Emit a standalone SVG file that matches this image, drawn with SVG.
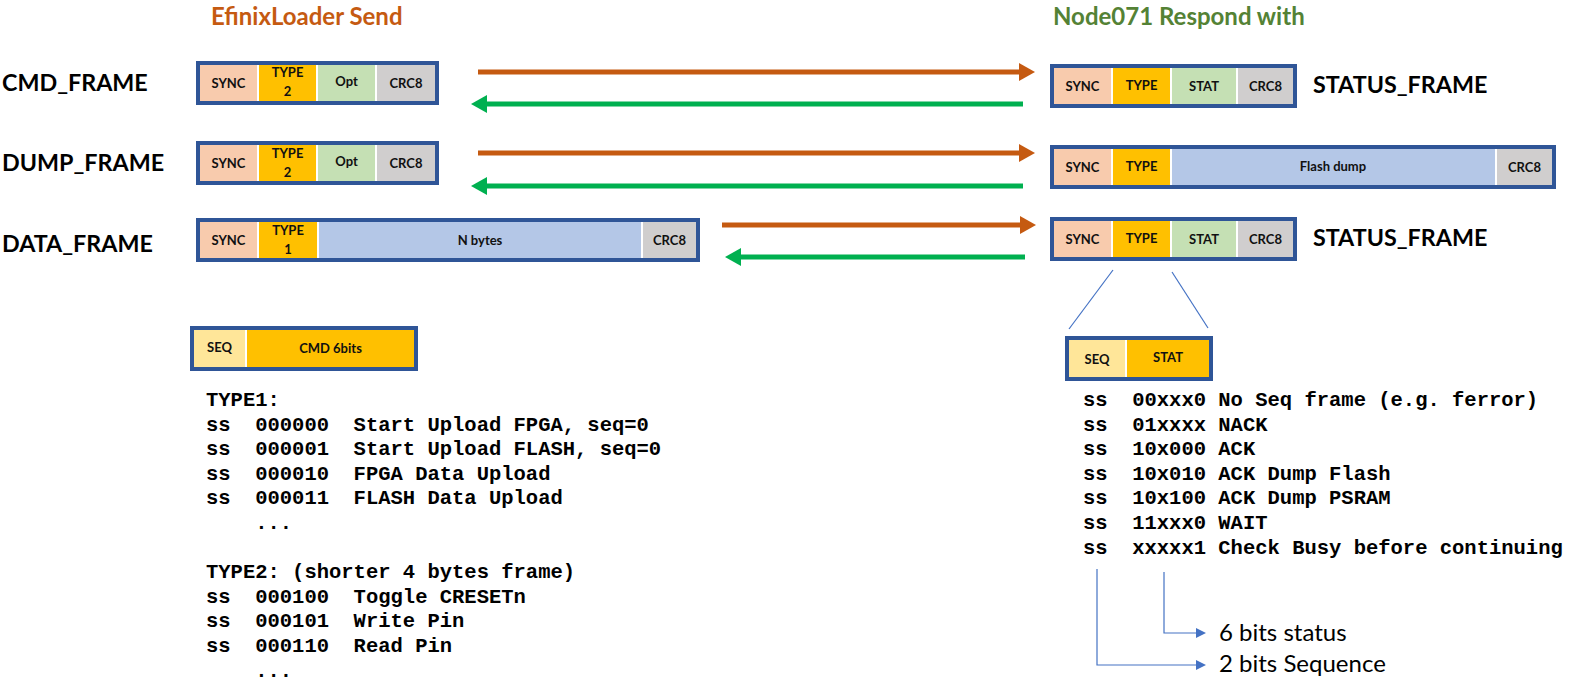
<svg xmlns="http://www.w3.org/2000/svg" width="1573" height="685" viewBox="0 0 1573 685">
<style>
.frame{fill:#fff;stroke:#2F5597;stroke-width:4}
.sync{fill:#F8CBAD}.type{fill:#FFC000}.stat{fill:#C5E0B4}.crc{fill:#D0CECE}.data{fill:#B4C7E7}.seq{fill:#FFE699}
.c{font-family:Lato,"Open Sans","Liberation Sans",sans-serif;font-weight:bold;font-size:13px;fill:#111;text-anchor:middle}
.lbl{font-family:Lato,"Open Sans","Liberation Sans",sans-serif;font-weight:bold;font-size:23.3px;fill:#000}
.hdr{font-family:Lato,"Open Sans","Liberation Sans",sans-serif;font-weight:bold;font-size:24px}
.mono{font-family:"Liberation Mono","Courier New",monospace;font-weight:bold;font-size:20.5px;fill:#000;white-space:pre}
.note{font-family:Lato,"Open Sans","Liberation Sans",sans-serif;font-size:24px;fill:#000}
.or{stroke:#C55A11;stroke-width:5;fill:none}
.gr{stroke:#00B050;stroke-width:5;fill:none}
.bl{stroke:#4472C4;stroke-width:1.2;fill:none}
</style>
<defs>
<marker id="ao" markerUnits="userSpaceOnUse" markerWidth="17" markerHeight="18" viewBox="0 0 17 18" refX="1" refY="9" orient="auto"><path d="M0,0 L16,9 L0,18 z" fill="#C55A11"/></marker>
<marker id="ag" markerUnits="userSpaceOnUse" markerWidth="17" markerHeight="18" viewBox="0 0 17 18" refX="1" refY="9" orient="auto"><path d="M0,0 L16,9 L0,18 z" fill="#00B050"/></marker>
<marker id="ab" markerUnits="userSpaceOnUse" markerWidth="11" markerHeight="10" viewBox="0 0 11 10" refX="1" refY="5" orient="auto"><path d="M0,0 L10,5 L0,10 z" fill="#4472C4"/></marker>
</defs>

<g id="headers">
<text class="hdr" x="211" y="25" fill="#C55A11">EfinixLoader Send</text>
<text class="hdr" x="1053" y="25" fill="#548235">Node071 Respond with</text>
</g>

<g id="labels">
<text class="lbl" x="2" y="91">CMD_FRAME</text>
<text class="lbl" x="2" y="171">DUMP_FRAME</text>
<text class="lbl" x="2" y="252">DATA_FRAME</text>
<text class="lbl" x="1313" y="93">STATUS_FRAME</text>
<text class="lbl" x="1313" y="246">STATUS_FRAME</text>
</g>

<g id="cmd-frame">
<rect class="frame" x="198" y="63" width="239" height="40"/>
<rect class="sync" x="200" y="65" width="57" height="36"/>
<rect class="type" x="259" y="65" width="57" height="36"/>
<rect class="stat" x="318" y="65" width="57" height="36"/>
<rect class="crc" x="377" y="65" width="58" height="36"/>
<text class="c" x="228.5" y="87.5">SYNC</text>
<text class="c" x="287.5" y="77">TYPE</text>
<text class="c" x="287.5" y="96">2</text>
<text class="c" x="346.5" y="86">Opt</text>
<text class="c" x="406" y="87.5">CRC8</text>
</g>

<g id="dump-frame">
<rect class="frame" x="198" y="143" width="239" height="40"/>
<rect class="sync" x="200" y="145" width="57" height="36"/>
<rect class="type" x="259" y="145" width="57" height="36"/>
<rect class="stat" x="318" y="145" width="57" height="36"/>
<rect class="crc" x="377" y="145" width="58" height="36"/>
<text class="c" x="228.5" y="167.5">SYNC</text>
<text class="c" x="287.5" y="158">TYPE</text>
<text class="c" x="287.5" y="177">2</text>
<text class="c" x="346.5" y="166">Opt</text>
<text class="c" x="406" y="167.5">CRC8</text>
</g>

<g id="data-frame">
<rect class="frame" x="198" y="220" width="500" height="40"/>
<rect class="sync" x="200" y="222" width="57" height="36"/>
<rect class="type" x="259" y="222" width="58" height="36"/>
<rect class="data" x="319" y="222" width="322" height="36"/>
<rect class="crc" x="643" y="222" width="53" height="36"/>
<text class="c" x="228.5" y="245">SYNC</text>
<text class="c" x="288" y="235">TYPE</text>
<text class="c" x="288" y="254">1</text>
<text class="c" x="480" y="245">N bytes</text>
<text class="c" x="669.5" y="245">CRC8</text>
</g>

<g id="status-frame-1">
<rect class="frame" x="1052" y="66" width="243" height="40"/>
<rect class="sync" x="1054" y="68" width="57" height="36"/>
<rect class="type" x="1113" y="68" width="57" height="36"/>
<rect class="stat" x="1172" y="68" width="64" height="36"/>
<rect class="crc" x="1238" y="68" width="55" height="36"/>
<text class="c" x="1082.5" y="91">SYNC</text>
<text class="c" x="1141.5" y="90">TYPE</text>
<text class="c" x="1204" y="91">STAT</text>
<text class="c" x="1265.5" y="91">CRC8</text>
</g>

<g id="dump-response">
<rect class="frame" x="1052" y="147" width="502" height="40"/>
<rect class="sync" x="1054" y="149" width="57" height="36"/>
<rect class="type" x="1113" y="149" width="57" height="36"/>
<rect class="data" x="1172" y="149" width="323" height="36"/>
<rect class="crc" x="1497" y="149" width="55" height="36"/>
<text class="c" x="1082.5" y="171.5">SYNC</text>
<text class="c" x="1141.5" y="171">TYPE</text>
<text class="c" x="1333" y="171">Flash dump</text>
<text class="c" x="1524.5" y="171.5">CRC8</text>
</g>

<g id="status-frame-2">
<rect class="frame" x="1052" y="219" width="243" height="40"/>
<rect class="sync" x="1054" y="221" width="57" height="36"/>
<rect class="type" x="1113" y="221" width="57" height="36"/>
<rect class="stat" x="1172" y="221" width="64" height="36"/>
<rect class="crc" x="1238" y="221" width="55" height="36"/>
<text class="c" x="1082.5" y="244">SYNC</text>
<text class="c" x="1141.5" y="243">TYPE</text>
<text class="c" x="1204" y="244">STAT</text>
<text class="c" x="1265.5" y="244">CRC8</text>
</g>

<g id="seq-cmd">
<rect class="frame" x="192" y="328" width="224" height="41"/>
<rect class="seq" x="194" y="330" width="51" height="37"/>
<rect class="type" x="247" y="330" width="167" height="37"/>
<text class="c" x="219.5" y="352">SEQ</text>
<text class="c" x="330.5" y="352.5">CMD 6bits</text>
</g>

<g id="seq-stat">
<rect class="frame" x="1067" y="338" width="144" height="41"/>
<rect class="seq" x="1069" y="340" width="56" height="37"/>
<rect class="type" x="1127" y="340" width="82" height="37"/>
<text class="c" x="1097" y="364">SEQ</text>
<text class="c" x="1168" y="362">STAT</text>
</g>

<g id="connectors">
<line class="or" x1="478" y1="72" x2="1020" y2="72" marker-end="url(#ao)"/>
<line class="gr" x1="1023" y1="104" x2="486" y2="104" marker-end="url(#ag)"/>
<line class="or" x1="478" y1="153" x2="1020" y2="153" marker-end="url(#ao)"/>
<line class="gr" x1="1023" y1="186" x2="486" y2="186" marker-end="url(#ag)"/>
<line class="or" x1="722" y1="225" x2="1021" y2="225" marker-end="url(#ao)"/>
<line class="gr" x1="1025" y1="257" x2="740" y2="257" marker-end="url(#ag)"/>
<line class="bl" x1="1113" y1="270" x2="1069" y2="329"/>
<line class="bl" x1="1172" y1="272" x2="1208" y2="328"/>
<path class="bl" d="M1164,572 V633 H1197" marker-end="url(#ab)"/>
<path class="bl" d="M1097,569 V665 H1197" marker-end="url(#ab)" stroke="#8FAADC"/>
</g>

<g id="type-list">
<text class="mono" x="206" y="406">TYPE1:</text>
<text class="mono" x="206" y="430.6">ss  000000  Start Upload FPGA, seq=0</text>
<text class="mono" x="206" y="455.2">ss  000001  Start Upload FLASH, seq=0</text>
<text class="mono" x="206" y="479.8">ss  000010  FPGA Data Upload</text>
<text class="mono" x="206" y="504.4">ss  000011  FLASH Data Upload</text>
<text class="mono" x="206" y="529">    ...</text>
<text class="mono" x="206" y="578.2">TYPE2: (shorter 4 bytes frame)</text>
<text class="mono" x="206" y="602.8">ss  000100  Toggle CRESETn</text>
<text class="mono" x="206" y="627.4">ss  000101  Write Pin</text>
<text class="mono" x="206" y="652">ss  000110  Read Pin</text>
<text class="mono" x="206" y="676.6">    ...</text>
</g>

<g id="stat-list">
<text class="mono" x="1083" y="406">ss  00xxx0 No Seq frame (e.g. ferror)</text>
<text class="mono" x="1083" y="430.6">ss  01xxxx NACK</text>
<text class="mono" x="1083" y="455.2">ss  10x000 ACK</text>
<text class="mono" x="1083" y="479.8">ss  10x010 ACK Dump Flash</text>
<text class="mono" x="1083" y="504.4">ss  10x100 ACK Dump PSRAM</text>
<text class="mono" x="1083" y="529">ss  11xxx0 WAIT</text>
<text class="mono" x="1083" y="553.6">ss  xxxxx1 Check Busy before continuing</text>
</g>

<g id="notes">
<text class="note" x="1219" y="641">6 bits status</text>
<text class="note" x="1219" y="672">2 bits Sequence</text>
</g>
</svg>
